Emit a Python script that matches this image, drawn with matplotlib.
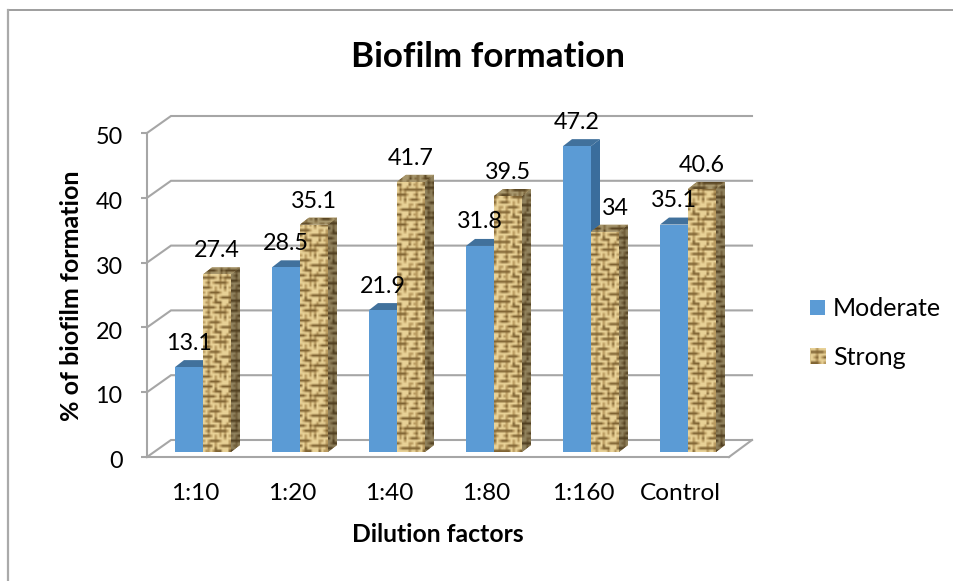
import numpy as np
import matplotlib
matplotlib.use("Agg")
import matplotlib.pyplot as plt
from matplotlib.patches import Patch, Polygon
from matplotlib.transforms import ScaledTranslation

categories = ["1:10", "1:20", "1:40", "1:80", "1:160", "Control"]
moderate = [13.1, 28.5, 21.9, 31.8, 47.2, 35.1]
strong = [27.4, 35.1, 41.7, 39.5, 34, 40.6]
y_ticks = [0, 10, 20, 30, 40, 50]

W, H = 954, 581
PX_X = 97.0      # pixels per category
PX_Y = 6.48      # pixels per value unit
X0, Y0 = 203.0, 457.0   # pixel of category 0 boundary, value 0 on the front plane

plt.rcParams["font.family"] = ["Lato", "DejaVu Sans"]
fig = plt.figure(figsize=(W / 100, H / 100), dpi=100, facecolor="white")
ax = fig.add_axes([0, 0, 1, 1])
ax.set_xlim(-X0 / PX_X, (W - X0) / PX_X)
ax.set_ylim((Y0 - H) / PX_Y, Y0 / PX_Y)
ax.patch.set_visible(False)

dx = lambda px: px / PX_X
dy = lambda px: px / PX_Y

GREY = "#A6A6A6"
LW = 1.5
FS = 16.8
FS_TEXT = 17.6

# outer chart frame (cropped: only top and left visible)
ax.plot([dx(8 - X0), dx(954 - X0)], [dy(Y0 - 10)] * 2, color="#969696", lw=1.3, zorder=1)
ax.plot([dx(8 - X0)] * 2, [dy(Y0 - 10), dy(Y0 - 581)], color="#AAAAAA", lw=1.6, zorder=1)

# 3D walls
x_left = dx(147 - X0)
x_front_right = dx(729 - X0)
x_right = dx(752 - X0)
depth_x, depth_y = dx(24), dy(17)
for t in y_ticks:
    ax.plot([x_left, x_left + depth_x, x_right], [t, t + depth_y, t + depth_y],
            color=GREY, lw=LW, zorder=1, solid_joinstyle="miter")
ax.plot([x_front_right, x_right], [0, depth_y], color=GREY, lw=LW, zorder=1)

# real axes
for s in ("top", "right"):
    ax.spines[s].set_visible(False)
ax.spines["left"].set_position(("data", x_left))
ax.spines["left"].set_bounds(0, 50)
ax.spines["bottom"].set_position(("data", 0))
ax.spines["bottom"].set_bounds(x_left, x_front_right)
for s in ("left", "bottom"):
    ax.spines[s].set_color(GREY)
    ax.spines[s].set_linewidth(LW)
ax.set_yticks(y_ticks)
ax.tick_params(axis="y", length=4.5, width=LW, color=GREY, pad=13, labelsize=FS, labelcolor="black")
for lab in ax.get_yticklabels():
    lab.set_transform(lab.get_transform() + ScaledTranslation(0, -2 / 72, fig.dpi_scale_trans))
label_shift = dx(8)
ax.set_xticks(np.arange(len(categories)) - label_shift)
ax.set_xticklabels(categories)
ax.tick_params(axis="x", length=0, pad=19, labelsize=FS_TEXT, labelcolor="black")

# burlap weave tile: 0 dark thread, 1 mid, 2 light
TILE = np.array([
    [2, 2, 1, 2, 2, 2, 2, 1, 2, 2, 1, 2],
    [0, 0, 0, 0, 0, 1, 2, 0, 1, 0, 0, 0],
    [2, 2, 1, 2, 2, 2, 2, 1, 2, 1, 2, 2],
    [2, 1, 0, 2, 1, 0, 0, 0, 0, 0, 1, 2],
    [2, 2, 1, 2, 2, 2, 2, 1, 2, 1, 2, 2],
    [0, 0, 0, 1, 2, 1, 2, 1, 2, 0, 2, 1],
    [2, 2, 2, 2, 2, 1, 2, 2, 2, 1, 2, 2],
    [1, 2, 1, 0, 0, 0, 0, 1, 2, 2, 2, 1],
    [2, 2, 1, 2, 2, 1, 2, 2, 2, 2, 2, 1],
    [0, 0, 0, 0, 2, 1, 2, 1, 0, 0, 0, 0],
    [2, 2, 1, 2, 2, 0, 2, 2, 2, 2, 2, 1],
    [2, 1, 1, 2, 1, 0, 0, 0, 2, 2, 2, 0],
])
THREADS = np.array([[0.50, 0.39, 0.20], [0.72, 0.60, 0.37], [0.91, 0.82, 0.59]])
CELL = 2.5


def weave(w, h, phase=0):
    nx = max(int(np.ceil(w / CELL)), 2)
    ny = max(int(np.ceil(h / CELL)), 2)
    yy, xx = np.mgrid[0:ny, 0:nx]
    idx = TILE[(yy + phase * 5) % TILE.shape[0], (xx + phase * 3) % TILE.shape[1]]
    return THREADS[idx]


def textured(patch, px_w, px_h, factor=1.0, phase=0, zorder=None):
    verts = patch.get_patch_transform().transform(patch.get_path().vertices)
    x0, y0 = verts.min(axis=0)
    x1, y1 = verts.max(axis=0)
    z = patch.get_zorder() + 0.1 if zorder is None else zorder
    im = ax.imshow(weave(px_w, px_h, phase) * factor, extent=(x0, x1, y0, y1),
                   aspect="auto", interpolation="bilinear", zorder=z)
    im.set_clip_path(patch)
    return im


base = dy(5)
bw = dx(28)
side_x, side_y = dx(9), dy(7)

for i, (m, s) in enumerate(zip(moderate, strong)):
    z = 3 + i
    # moderate: blue box
    xl = i - bw
    top = m + base
    ax.add_patch(Polygon([(i, base), (i + side_x, base + side_y), (i + side_x, top + side_y), (i, top)],
                         fc="#3A6D9C", ec="none", zorder=z))
    ax.add_patch(Polygon([(xl, top), (xl + side_x, top + side_y), (i + side_x, top + side_y), (i, top)],
                         fc="#41719C", ec="none", zorder=z))
    ax.bar(xl, m, width=bw, bottom=base, align="edge", color="#5B9BD5", zorder=z + 0.1)
    # strong: textured box
    xr = i + bw
    top = s + base
    side = Polygon([(xr, base), (xr + side_x, base + side_y), (xr + side_x, top + side_y), (xr, top)],
                   fc="#8A7040", ec="none", zorder=z + 0.2)
    ax.add_patch(side)
    textured(side, 9, s * PX_Y + 7, 0.62, i)
    cap = Polygon([(i, top), (i + side_x, top + side_y), (xr + side_x, top + side_y), (xr, top)],
                  fc="#A08850", ec="none", zorder=z + 0.3)
    ax.add_patch(cap)
    textured(cap, 37, 7, 0.72, i)
    bar = ax.bar(i, s, width=bw, bottom=base, align="edge", color="#D9C38C", zorder=z + 0.5)[0]
    textured(bar, 28, s * PX_Y, 1.0, i)

ax.set_xlim(-X0 / PX_X, (W - X0) / PX_X)
ax.set_ylim((Y0 - H) / PX_Y, Y0 / PX_Y)

# data labels
label_offset = 24
nudges = {("s", 4): 10}
for i, (m, s) in enumerate(zip(moderate, strong)):
    ax.annotate(f"{m:g}", (i - bw / 2, m + base), xytext=(0, label_offset * 0.72), textcoords="offset points",
                ha="center", va="center", fontsize=FS, zorder=30)
    ax.annotate(f"{s:g}", (i + bw / 2, s + base),
                xytext=(nudges.get(("s", i), 0) * 0.72, (label_offset - 0.5) * 0.72), textcoords="offset points",
                ha="center", va="center", fontsize=FS, zorder=30)

ax.set_title("Biofilm formation", fontsize=25.2, fontweight="bold", x=488 / W, y=1 - 75 / H, color="black")
ax.set_xlabel("Dilution factors", fontsize=17.8, fontweight="bold")
ax.xaxis.set_label_coords(438 / W, 1 - 534 / H, transform=ax.transAxes)
ax.xaxis.label.set_va("center")
ax.set_ylabel("% of biofilm formation", fontsize=18, fontweight="bold")
ax.yaxis.set_label_coords(72 / W, 1 - 296 / H, transform=ax.transAxes)
ax.yaxis.label.set_va("center")

handles = [Patch(fc="#5B9BD5", ec="none", label="Moderate"),
           Patch(fc="#D9C38C", ec="none", label="Strong")]
leg = ax.legend(handles=handles, loc="center left", bbox_to_anchor=(803 / W, 1 - 333 / H),
                frameon=False, fontsize=18, handlelength=0.6, handleheight=0.6,
                handletextpad=0.3, labelspacing=1.02, borderpad=0.3, borderaxespad=0)

# weave swatch placed on the legend's own Strong handle
fig.canvas.draw()
sw = leg.get_patches()[1]
corners = ax.transData.inverted().transform(sw.get_window_extent().get_points())
im = ax.imshow(weave(15, 15), extent=(corners[0, 0], corners[1, 0], corners[0, 1], corners[1, 1]),
               aspect="auto", interpolation="bilinear", zorder=40)
ax.set_xlim(-X0 / PX_X, (W - X0) / PX_X)
ax.set_ylim((Y0 - H) / PX_Y, Y0 / PX_Y)

fig.savefig("out.png", dpi=100, facecolor="white")
